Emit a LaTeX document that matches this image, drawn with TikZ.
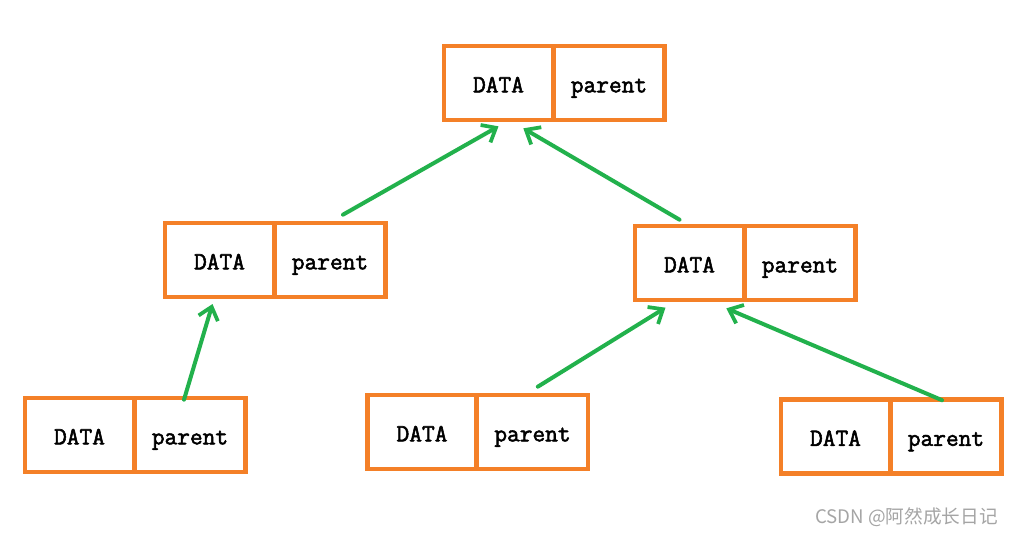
\documentclass[tikz,border=0pt]{standalone}
\usepackage{fontspec}
\newfontfamily\cellfont[FakeBold=2.2]{Latin Modern Mono}
\newfontfamily\wmfont{Noto Sans CJK SC}
\usetikzlibrary{arrows.meta,calc}
\definecolor{boxorange}{RGB}{244,128,40}
\definecolor{arrowgreen}{RGB}{34,177,76}
\definecolor{wmgray}{RGB}{165,165,165}
\tikzset{
  x=0.75pt,y=-0.75pt,
  datacell/.style={draw=boxorange,line width=3.5pt,rectangle,inner sep=0pt,
    minimum width=81.75pt,minimum height=55.5pt,
    text height=15pt,text depth=1pt,
    font=\cellfont\fontsize{18.5pt}{20pt}\selectfont},
  parcell/.style={datacell,minimum width=83.25pt},
  link/.style={draw=arrowgreen,line width=3pt,line cap=round,
    -{Straight Barb[length=9pt,width=15pt,line width=2.8pt]}}
}
\begin{document}
\begin{tikzpicture}
\useasboundingbox (0,0) rectangle (1015,537);
\fill[white] (0,0) rectangle (1015,537);
% top
\node[datacell] (tD) at (498.5,83) {DATA};
\node[parcell] (tP) at (609,83) {parent};
% middle left
\node[datacell] (lD) at (219.5,260) {DATA};
\node[parcell] (lP) at (330,260) {parent};
% middle right
\node[datacell] (rD) at (689.5,263) {DATA};
\node[parcell] (rP) at (800,263) {parent};
% bottom left
\node[datacell] (aD) at (79.5,435) {DATA};
\node[parcell] (aP) at (190,435) {parent};
% bottom middle
\node[datacell] (bD) at (422,432) {DATA};
\node[parcell] (bP) at (532.5,432) {parent};
% bottom right
\node[datacell] (cD) at (835.5,436.5) {DATA};
\node[parcell] (cP) at (946,436.5) {parent};
% arrows
\coordinate (s1) at ([xshift=9.75pt,yshift=4.5pt]lP.north);
\coordinate (e1) at ([yshift=-3pt]tD.south);
\draw[link] (s1) -- (e1);
\coordinate (s2) at ([xshift=-7.5pt,yshift=3pt]rD.north);
\coordinate (e2) at ([xshift=-24pt,yshift=-4.5pt]tD.south east);
\draw[link] (s2) -- (e2);
\coordinate (s3) at ([xshift=-4.5pt,yshift=-3pt]aP.north);
\coordinate (e3) at ([xshift=-5.25pt,yshift=-3.5pt]lD.south);
\draw[link] (s3) -- (e3);
\coordinate (s4) at ([xshift=4pt,yshift=4.5pt]bP.north);
\coordinate (e4) at ([xshift=-18pt,yshift=-4pt]rD.south);
\draw[link] (s4) -- (e4);
\coordinate (s5) at ([xshift=-3pt,yshift=-2.25pt]cP.north);
\coordinate (e5) at ([xshift=-15pt,yshift=-4.5pt]rD.south east);
\draw[link] (s5) -- (e5);
% watermark
\node[anchor=east,inner sep=0pt,text=wmgray,font=\wmfont\fontsize{14pt}{16pt}\selectfont] (wm) at (998,517) {CSDN @阿然成长日记};
\end{tikzpicture}
\end{document}
